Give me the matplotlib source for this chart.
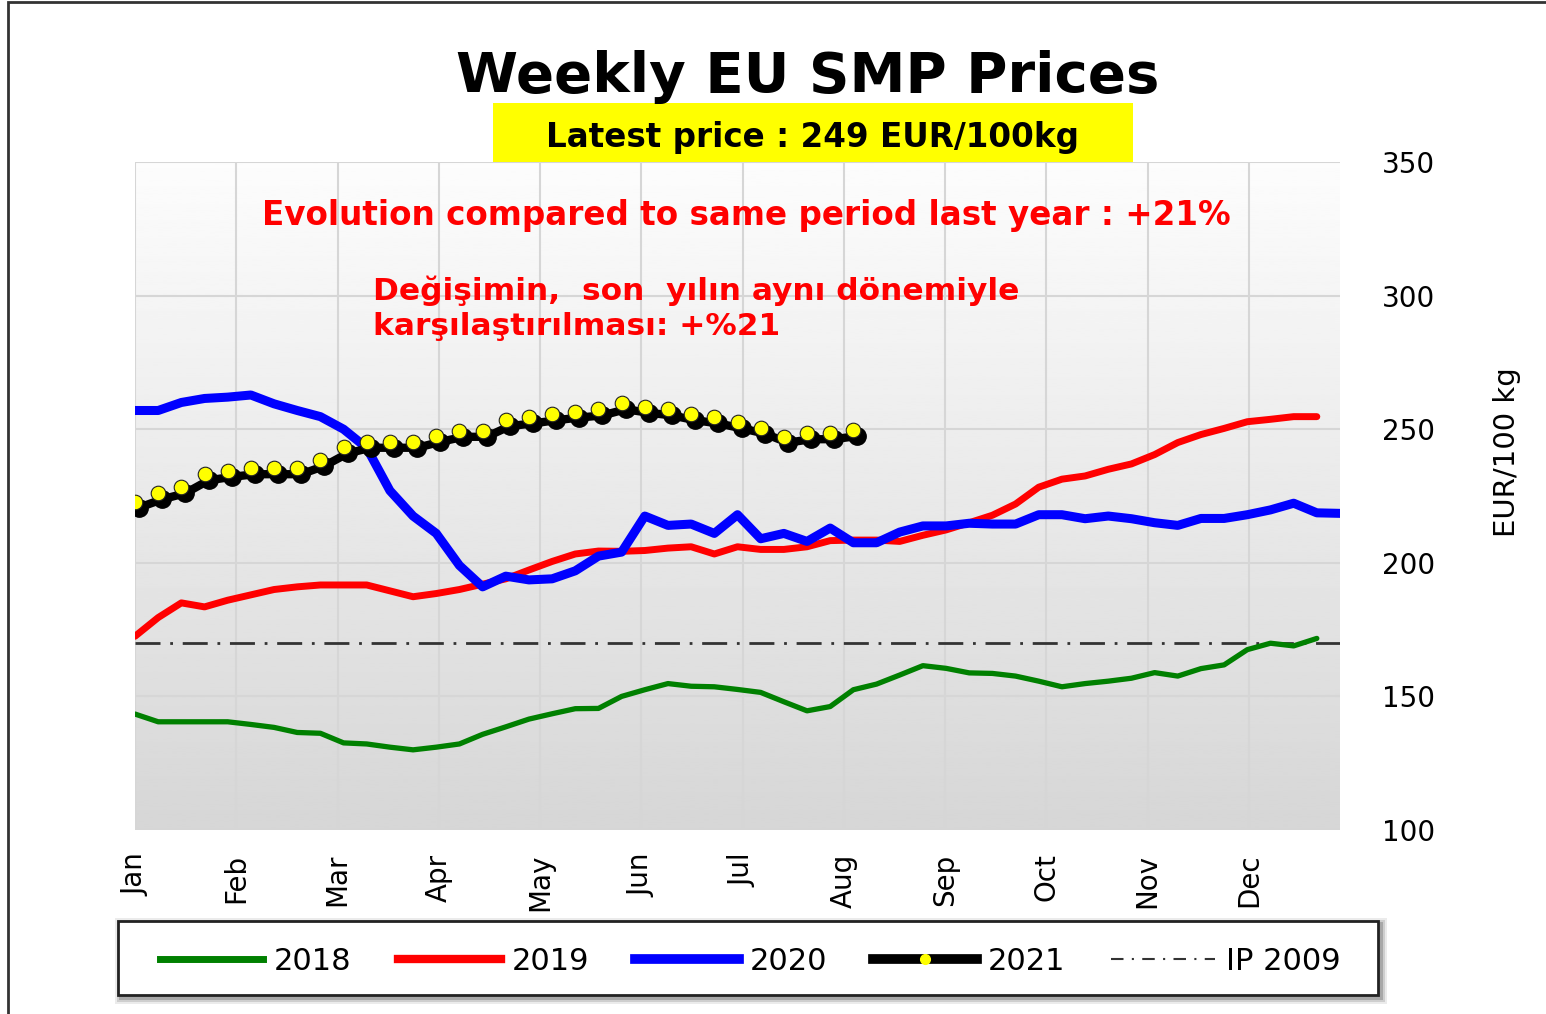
import numpy as np
import matplotlib; matplotlib.use("Agg")
import matplotlib.pyplot as plt
import matplotlib.transforms as mtransforms
from matplotlib.lines import Line2D
from matplotlib.patches import Rectangle

# weekly prices, EUR/100 kg (week index 0 = first week of January)
p2018 = [143.4, 140.5, 140.5, 140.5, 140.5, 139.5, 138.4, 136.5, 136.2, 132.6, 132.2, 131.0, 130.0,
         131.0, 132.2, 135.8, 138.6, 141.5, 143.5, 145.4, 145.5, 150.0, 152.5, 154.8, 153.8, 153.6,
         152.6, 151.5, 148.0, 144.6, 146.2, 152.5, 154.6, 158.0, 161.5, 160.5, 158.8, 158.6, 157.6,
         155.7, 153.6, 154.8, 155.7, 156.8, 158.9, 157.6, 160.4, 161.8, 167.5, 169.9, 168.9, 171.7]
p2019 = [172.5, 179.5, 185.0, 183.5, 186.0, 188.0, 190.0, 191.0, 191.7, 191.7, 191.7, 189.5, 187.3,
         188.5, 190.0, 192.0, 194.0, 197.3, 200.5, 203.3, 204.4, 204.3, 204.6, 205.5, 206.0, 203.3,
         206.0, 205.0, 205.0, 206.0, 208.3, 208.5, 208.5, 208.0, 210.3, 212.3, 215.0, 217.8, 222.0,
         228.3, 231.3, 232.5, 235.0, 237.0, 240.5, 245.0, 248.0, 250.3, 252.8, 253.7, 254.7, 254.7]
p2020 = [257.0, 257.0, 260.0, 261.5, 262.0, 262.8, 259.5, 257.0, 254.7, 250.0, 243.0, 227.0, 217.5,
         211.0, 199.0, 191.0, 195.0, 193.6, 194.0, 197.0, 202.5, 204.0, 217.5, 214.0, 214.5, 211.0,
         218.0, 209.0, 211.0, 208.0, 213.0, 207.5, 207.5, 211.5, 213.8, 213.8, 214.8, 214.5, 214.5,
         218.0, 218.0, 216.5, 217.5, 216.5, 215.0, 214.0, 216.6, 216.6, 218.0, 219.8, 222.3, 218.7,
         218.5]
p2021 = [222.9, 226.0, 228.3, 233.1, 234.4, 235.4, 235.4, 235.4, 238.5, 243.2, 245.3, 245.3, 245.3,
         247.5, 249.4, 249.4, 253.4, 254.4, 255.6, 256.6, 257.4, 259.7, 258.4, 257.4, 255.6, 254.4,
         252.6, 250.6, 247.2, 248.5, 248.5, 249.7]
ip2009 = 169.8
months = ["Jan", "Feb", "Mar", "Apr", "May", "Jun", "Jul", "Aug", "Sep", "Oct", "Nov", "Dec"]
weeks_per_month = 52.0 / 11.9
yticks = [100, 150, 200, 250, 300, 350]

RED = "#ff0000"; GREEN = "#008000"; BLUE = "#0000ff"; YEL = "#ffff00"
W, H = 1546, 1014

plt.rcParams.update({"font.family": "DejaVu Sans"})
fig = plt.figure(figsize=(W/100, H/100), dpi=100)
ax = fig.add_axes([135/W, 1-830/H, 1205/W, 668/H])

# outer frame (left + top edges)
fig.add_artist(Rectangle((8/W, -0.05), 1.2, 1.05-2/H, transform=fig.transFigure,
                         fill=False, ec="#333333", lw=2))

# background gradient
grad = np.linspace(0.84, 0.99, 256).reshape(-1, 1)
ax.imshow(grad, cmap="gray", vmin=0, vmax=1, aspect="auto", extent=[0, 1, 0, 1],
          transform=ax.transAxes, zorder=0, origin="lower")

x18 = np.arange(len(p2018)); x19 = np.arange(len(p2019))
x20 = np.arange(len(p2020)); x21 = np.arange(len(p2021))

ax.axhline(ip2009, color="#333333", lw=2, ls=(0, (9, 3.5, 1, 3.5)), zorder=2)
ax.plot(x18, p2018, color=GREEN, lw=3.8, zorder=3, solid_capstyle="round")
ax.plot(x19, p2019, color=RED, lw=5, zorder=3, solid_capstyle="round")
ax.plot(x20, p2020, color=BLUE, lw=6.5, zorder=4, solid_capstyle="round")
shadow = mtransforms.offset_copy(ax.transData, fig=fig, x=4, y=-6, units="dots")
ax.plot(x21, p2021, color="black", lw=6, marker="o", ms=12.5, mfc="black", mec="black",
        transform=shadow, zorder=5)
ax.plot(x21, p2021, ls="none", marker="o", ms=10.5, mfc=YEL, mec="#222222", mew=0.8, zorder=6)

ax.set_xlim(0, 52)
ax.set_ylim(100, 350)
ax.set_xticks([i*weeks_per_month for i in range(12)])
ax.set_xticklabels(months, rotation=90, fontsize=20)
ax.set_yticks(yticks)
ax.yaxis.tick_right()
ax.tick_params(axis="both", length=0)
ax.tick_params(axis="y", pad=30, labelsize=20)
ax.tick_params(axis="x", pad=17)
ax.yaxis.set_label_position("right")
ax.set_ylabel("EUR/100 kg", fontsize=21)
ax.yaxis.set_label_coords((1493-135)/1205, (830-452)/668)
ax.grid(True, color="#d6d6d6", lw=1.5, zorder=1)
ax.set_axisbelow(True)
for s in ax.spines.values():
    s.set_visible(False)

# titles and notes
fig.text(808/W, 1-77/H, "Weekly EU SMP Prices", ha="center", va="center",
         fontsize=40.5, fontweight="bold")
fig.add_artist(Rectangle((493/W, 1-162/H), 640/W, 59/H, transform=fig.transFigure,
                         fc=YEL, ec="none"))
fig.text(812/W, 1-137/H, "Latest price : 249 EUR/100kg", ha="center", va="center",
         fontsize=23.5, fontweight="bold")
fig.text(746/W, 1-216/H, "Evolution compared to same period last year : +21%",
         ha="center", va="center", fontsize=23.5, fontweight="bold", color=RED)
fig.text(373/W, 1-308/H, "Değişimin,  son  yılın aynı dönemiyle\nkarşılaştırılması: +%21",
         ha="left", va="center", fontsize=22.5, fontweight="bold", color=RED,
         linespacing=1.25)

# legend box with soft shadow
for k, a in [(6, 0.08), (4, 0.12), (2, 0.18)]:
    fig.add_artist(Rectangle(((118-k+3)/W, 1-(995+k+3)/H), (1260+2*k)/W, (74+2*k)/H,
                             transform=fig.transFigure, fc="black", ec="none", alpha=a))
fig.add_artist(Rectangle((118/W, 1-995/H), 1260/W, 74/H, transform=fig.transFigure,
                         fc="white", ec="#222222", lw=2))
handles = [Line2D([], [], color=GREEN, lw=5),
           Line2D([], [], color=RED, lw=6),
           Line2D([], [], color=BLUE, lw=7),
           Line2D([], [], color="black", lw=7, marker="o", ms=7, mfc=YEL, mec=YEL),
           Line2D([], [], color="#333333", lw=1.5, ls=(0, (6, 4, 1, 4)))]
leg = fig.legend(handles, ["2018", "2019", "2020", "2021", "IP 2009"], ncol=5,
                 loc="center", bbox_to_anchor=(750/W, 1-961/H), fontsize=22,
                 handlelength=3.4, handletextpad=0.35, columnspacing=1.5, frameon=False,
                 borderpad=0, borderaxespad=0)

fig.savefig("out.png", dpi=100)
